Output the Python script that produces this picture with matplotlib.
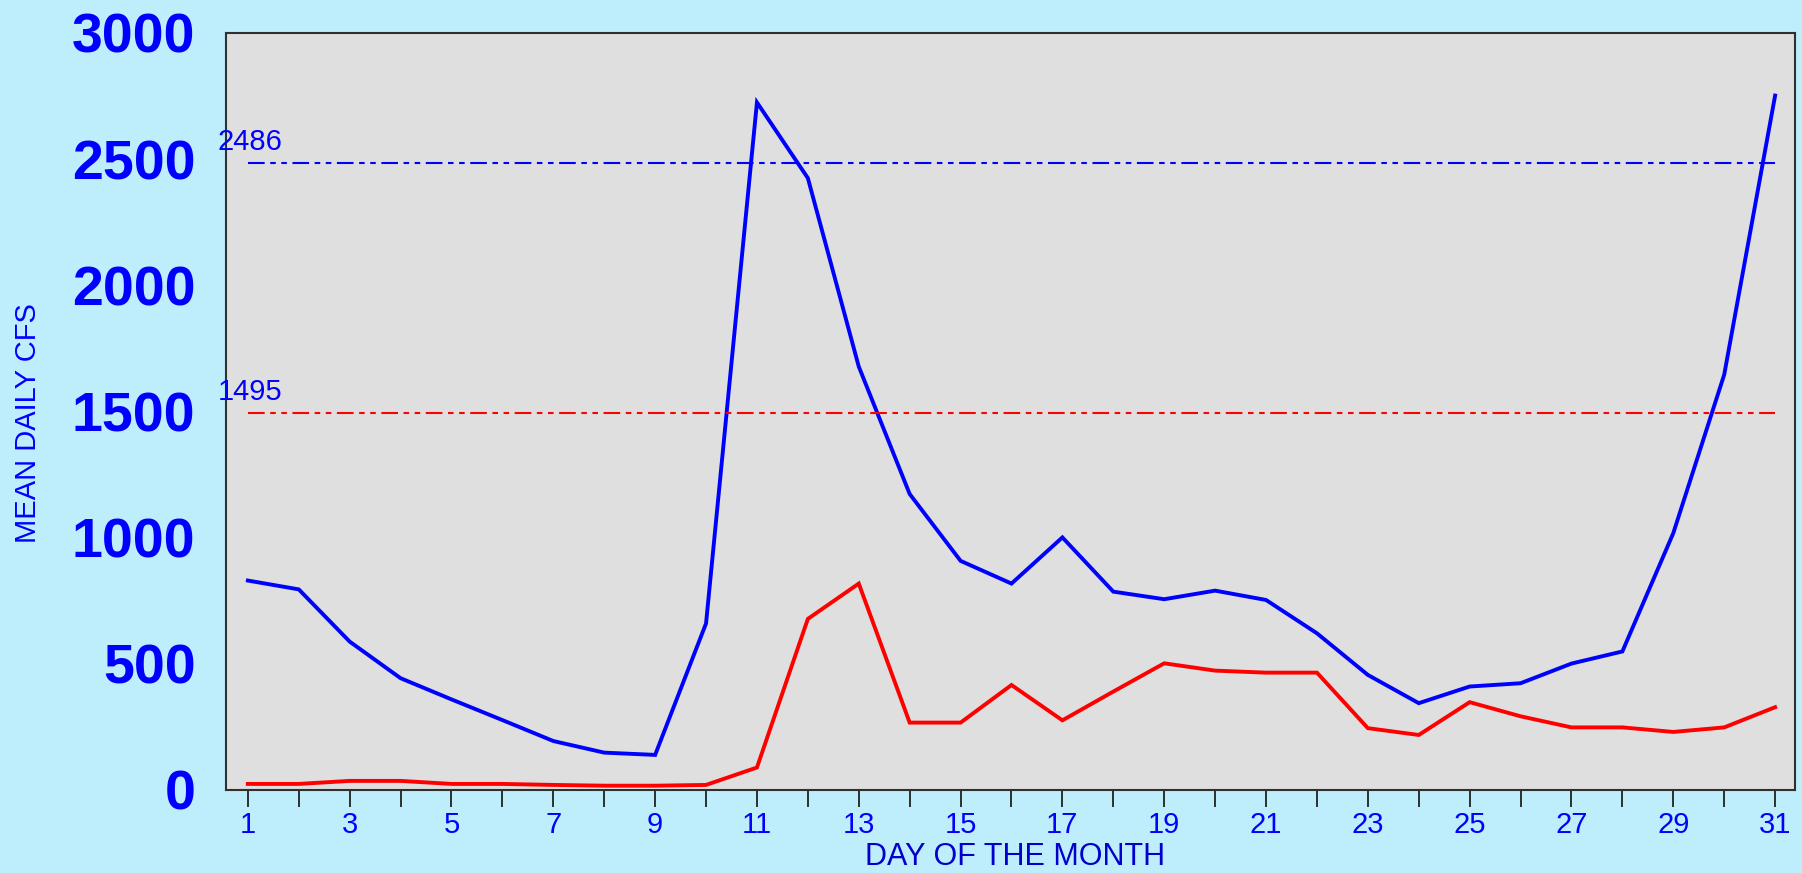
import matplotlib.pyplot as plt
from matplotlib.ticker import MultipleLocator

# данные: средний суточный расход по дням месяца
days = list(range(1, 32))
mean_high = [830, 795, 588, 443, 359, 277, 194, 148, 139, 660,
             2725, 2425, 1678, 1173, 908, 818, 1001, 786, 756, 790,
             753, 621, 456, 344, 410, 423, 501, 549, 1018, 1646, 2752]
mean_low = [24, 24, 36, 36, 24, 24, 20, 17, 17, 20,
            89, 678, 818, 267, 267, 416, 276, 390, 502, 473,
            465, 465, 245, 218, 348, 292, 248, 248, 230, 248, 328]
ref_values = [2486, 1495]
ref_colors = ['#0000FF', '#FF0000']
y_ticks = [0, 500, 1000, 1500, 2000, 2500, 3000]

plt.rcParams['font.family'] = ['Liberation Sans', 'DejaVu Sans']
plt.rcParams['lines.scale_dashes'] = False

fig = plt.figure(figsize=(18.02, 8.73), dpi=100, facecolor='#BEEEFC')
ax = fig.add_axes([0.1254, 0.0951, 0.8707, 0.8671], facecolor='#DFDFDF')

# линии
ax.plot(days, mean_high, color='#0000FF', lw=2.8, solid_joinstyle='miter')
ax.plot(days, mean_low, color='#FF0000', lw=2.8, solid_joinstyle='miter')

# горизонтальные опорные линии с подписями
for val, col in zip(ref_values, ref_colors):
    line, = ax.plot([days[0], days[-1]], [val, val], color=col, lw=1.5)
    line.set_dashes([12, 4, 4, 4, 4, 4])
    ax.annotate(str(val), xy=(0, val), xycoords=('axes fraction', 'data'),
                xytext=(-6, 5), textcoords='offset points',
                ha='left', va='bottom', fontsize=21, color='#0000FF')

ax.set_xlim(0.57, 31.39)
ax.set_ylim(0, 3000)
ax.set_yticks(y_ticks)
ax.set_yticklabels([str(v) for v in y_ticks], fontsize=40, fontweight='bold', color='#0000FF')
ax.tick_params(axis='y', length=0, pad=22)

ax.xaxis.set_major_locator(MultipleLocator(2))
ax.xaxis.set_minor_locator(MultipleLocator(1))
ax.set_xticks(range(1, 32, 2))
ax.tick_params(axis='x', which='both', direction='out', length=12, width=1.3,
               color='#202020', labelsize=21, labelcolor='#0000FF', pad=3)

ax.set_xlabel('DAY OF THE MONTH', fontsize=22, color='#0000CC')
ax.xaxis.set_label_coords(0.503, -0.069)
ax.set_ylabel('MEAN DAILY CFS', fontsize=21, color='#0000FF')
ax.yaxis.set_label_coords(-0.117, 0.485)

for sp in ax.spines.values():
    sp.set_color('#303030')
    sp.set_linewidth(1.5)

fig.savefig('out.png', dpi=100, facecolor=fig.get_facecolor())
